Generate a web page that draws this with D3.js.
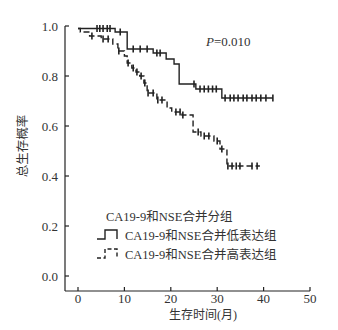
<!DOCTYPE html>
<html>
<head>
<meta charset="utf-8">
<script src="https://cdn.jsdelivr.net/npm/d3@7"></script>
<style>
  body { margin: 0; background: #fff; }
  text { font-family: "Liberation Serif", "Noto Sans CJK SC", serif; fill: #333; }
  .cjk { font-family: "Liberation Serif", "Noto Sans CJK SC", sans-serif; }
</style>
</head>
<body>
<svg id="chart" width="338" height="330"></svg>
<script>
// low expression group (solid)
const lowTime = [0, 8.0, 10.6, 16.2, 19.0, 20.7, 21.8, 25.4, 31.0];
const lowSurv = [0.99, 0.976, 0.908, 0.892, 0.868, 0.848, 0.768, 0.748, 0.712];
const lowEnd = 42.0;
const lowCensor = [4.1, 4.7, 5.4, 6.3, 6.9, 9.1, 11.9, 13.4, 14.9, 17.0, 17.7, 25.0,
  26.3, 27.2, 28.1, 29.0, 29.8, 31.7, 32.8, 33.6, 34.5, 35.6, 36.4, 37.5, 38.4, 39.4, 40.5, 42.0];

// high expression group (dashed)
const highTime = [0, 0.5, 2.5, 5.0, 7.5, 8.6, 10.0, 10.6, 11.6, 12.5, 13.3, 14.2, 14.9,
  17.0, 19.2, 20.2, 22.4, 24.8, 26.5, 29.3, 30.6, 32.1];
const highSurv = [0.99, 0.976, 0.96, 0.948, 0.928, 0.90, 0.88, 0.852, 0.832, 0.816, 0.80,
  0.772, 0.732, 0.704, 0.672, 0.656, 0.644, 0.576, 0.56, 0.54, 0.508, 0.44];
const highEnd = 39.2;
const highCensor = [3.0, 5.4, 6.5, 8.8, 10.8, 11.9, 12.7, 13.6, 14.4, 15.1, 16.2, 17.2, 18.1,
  21.1, 22.0, 22.6, 25.9, 27.2, 28.2, 30.0, 31.0, 32.3, 33.2, 34.1, 34.9, 37.5, 38.6];

const xTicks = [0, 10, 20, 30, 40, 50];
const yTicks = [0, 0.2, 0.4, 0.6, 0.8, 1.0];
const legendTitle = "CA19-9和NSE合并分组";
const legendLabels = ["CA19-9和NSE合并低表达组", "CA19-9和NSE合并高表达组"];
const pText = "=0.010";

const svg = d3.select("#chart");
const x = d3.scaleLinear().domain([0, 50]).range([78, 310]);
const y = d3.scaleLinear().domain([0, 1]).range([276, 26]);
const axisLeftX = 65;
const axisBottomY = 291;
const ink = "#222";

// axes
svg.append("line")
  .attr("x1", axisLeftX).attr("x2", axisLeftX)
  .attr("y1", y(1)).attr("y2", axisBottomY)
  .attr("stroke", ink).attr("stroke-width", 1.2);
svg.append("line")
  .attr("x1", axisLeftX).attr("x2", x(50))
  .attr("y1", axisBottomY).attr("y2", axisBottomY)
  .attr("stroke", ink).attr("stroke-width", 1.2);

const yt = svg.append("g").selectAll("g").data(yTicks).join("g")
  .attr("transform", (d) => `translate(${axisLeftX},${y(d)})`);
yt.append("line").attr("x2", 4).attr("stroke", ink).attr("stroke-width", 1.2);
yt.append("text").attr("x", -7).attr("dy", "0.35em")
  .attr("text-anchor", "end").attr("font-size", 13)
  .text((d) => d.toFixed(1));

const xt = svg.append("g").selectAll("g").data(xTicks).join("g")
  .attr("transform", (d) => `translate(${x(d)},${axisBottomY})`);
xt.append("line").attr("y2", -4).attr("stroke", ink).attr("stroke-width", 1.2);
xt.append("text").attr("y", 11.5).attr("text-anchor", "middle")
  .attr("font-size", 13).text((d) => d);

svg.append("text").attr("class", "cjk")
  .attr("x", 203).attr("y", 319).attr("text-anchor", "middle")
  .attr("font-size", 12).text("生存时间(月)");

svg.append("text").attr("class", "cjk")
  .attr("transform", `translate(27,146) rotate(-90)`)
  .attr("text-anchor", "middle").attr("font-size", 12.5)
  .text("总生存概率");

// P value
const pt = svg.append("text").attr("x", 206).attr("y", 46).attr("font-size", 13);
pt.append("tspan").attr("font-style", "italic").text("P");
pt.append("tspan").text(pText);

// curves
function survAt(times, surv, t) {
  let s = surv[0];
  times.forEach((tt, i) => { if (tt <= t) s = surv[i]; });
  return s;
}

const line = d3.line().x((d) => x(d[0])).y((d) => y(d[1])).curve(d3.curveStepAfter);

function drawGroup(times, surv, end, censor, dash) {
  const pts = times.map((t, i) => [t, surv[i]]);
  pts.push([end, surv[surv.length - 1]]);
  svg.append("path")
    .datum(pts)
    .attr("d", line)
    .attr("fill", "none")
    .attr("stroke", ink)
    .attr("stroke-width", 1.4)
    .attr("stroke-dasharray", dash);
  svg.append("g").selectAll("line").data(censor).join("line")
    .attr("x1", (d) => x(d)).attr("x2", (d) => x(d))
    .attr("y1", (d) => y(survAt(times, surv, d)) - 3.5)
    .attr("y2", (d) => y(survAt(times, surv, d)) + 3.5)
    .attr("stroke", ink).attr("stroke-width", 1.6);
}

drawGroup(lowTime, lowSurv, lowEnd, lowCensor, null);
drawGroup(highTime, highSurv, highEnd, highCensor, "6,3");

// legend
svg.append("text").attr("class", "cjk")
  .attr("x", 106).attr("y", 221).attr("font-size", 12.5).text(legendTitle);

const legendY = [235, 254];
const legendDash = [null, "4,2.5"];
legendLabels.forEach((label, i) => {
  const cy = legendY[i];
  svg.append("path")
    .attr("d", `M97,${cy + 4}H105V${cy - 5}H117V${cy + 4}`)
    .attr("fill", "none").attr("stroke", ink).attr("stroke-width", 1.4)
    .attr("stroke-dasharray", legendDash[i]);
  svg.append("text").attr("class", "cjk")
    .attr("x", 125).attr("y", cy + 4.5).attr("font-size", 12.5).text(label);
});
</script>
</body>
</html>
